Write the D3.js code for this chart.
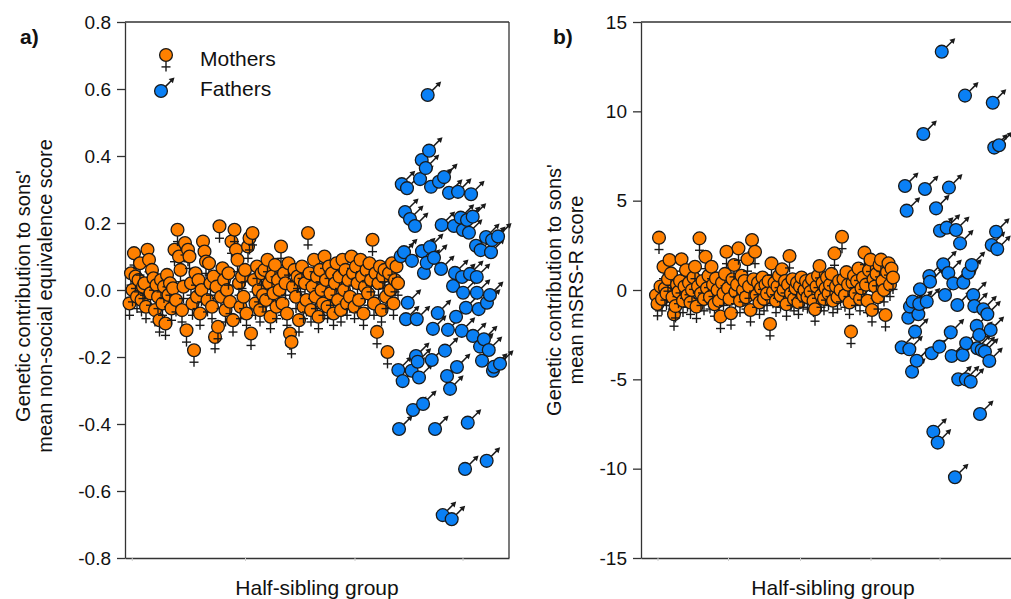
<!DOCTYPE html>
<html>
<head>
<meta charset="utf-8">
<script src="https://cdn.jsdelivr.net/npm/d3@7"></script>
<style>
body { margin: 0; background: #fff; }
svg { display: block; font-family: Arial, "Liberation Sans", sans-serif; }
</style>
</head>
<body>
<svg width="1011" height="599"></svg>
<script>
// panel a: mothers, one value per half-sibling group starting at group 3
var mothersAStart = 3;
var mothersA = [-0.04, 0.05, 0.0, 0.11, 0.04, -0.02, 0.03, 0.08, -0.03, 0.01,
    0.02, -0.05, 0.12, 0.09, -0.01, 0.06, 0.035, -0.06, 0.015, -0.02,
    -0.09, 0.03, -0.04, 0.01, -0.1, 0.045, -0.015, 0.02, -0.055, 0.005,
    0.12, -0.03, 0.18, 0.1, 0.06, -0.06, 0.01, 0.14, -0.12, 0.12,
    0.1, 0.02, -0.04, -0.18, 0.05, -0.02, 0.03, -0.07, 0.0, 0.145,
    0.115, 0.085, -0.03, 0.08, 0.02, -0.05, 0.04, -0.14, 0.01, -0.11,
    0.19, -0.02, 0.065, 0.03, -0.06, 0.0, 0.05, -0.035, 0.145, -0.09,
    0.18, 0.12, 0.09, 0.02, -0.05, 0.04, -0.02, 0.06, -0.07, 0.13,
    0.155, -0.13, 0.17, 0.03, -0.04, 0.07, 0.0, -0.06, 0.05, -0.015,
    0.06, -0.03, 0.09, 0.02, -0.08, 0.04, -0.01, 0.075, -0.05, 0.03,
    0.0, 0.13, -0.04, 0.05, 0.02, -0.07, 0.08, -0.13, -0.155, 0.01,
    0.06, -0.02, 0.04, -0.09, 0.03, 0.07, -0.05, 0.02, -0.03, 0.17,
    0.05, -0.06, 0.01, 0.09, -0.02, 0.04, -0.08, 0.06, 0.0, -0.04,
    0.1, 0.03, -0.05, 0.07, -0.01, 0.05, -0.07, 0.02, 0.08, -0.03,
    0.04, -0.06, 0.09, 0.0, 0.06, -0.04, 0.03, -0.02, 0.1, 0.05,
    -0.05, 0.07, 0.02, -0.03, 0.09, 0.04, -0.07, 0.01, 0.06, -0.01,
    0.08, 0.03, 0.15, -0.04, 0.05, -0.125, 0.02, 0.07, -0.06, 0.04,
    0.06, -0.02, -0.185, 0.05, 0.0, 0.08, -0.04, 0.03, 0.07, 0.02];

// panel a: fathers [group, value]
var fathersA = [[182.2, -0.239], [182.7, -0.415], [183.8, 0.101], [184.5, 0.316], [185.1, -0.272],
    [186, 0.113], [186.7, 0.233], [187.3, -0.087], [188, 0.304], [188.5, -0.038],
    [190, 0.212], [191.1, -0.241], [191.3, 0.087], [192, -0.358], [193.3, 0.191],
    [194, -0.197], [194.5, -0.087], [195.1, -0.214], [196, -0.261], [196.7, 0.331],
    [197.8, 0.388], [198, 0.116], [198.7, -0.34], [199.3, 0.051], [200.5, 0.364],
    [201.1, 0.081], [201.8, 0.582], [202.7, 0.416], [203.3, 0.128], [204, 0.308],
    [204.5, -0.209], [205.3, -0.116], [206, 0.096], [206.7, -0.415], [208.5, -0.069],
    [209.3, 0.323], [210.7, 0.063], [211.1, 0.194], [211.8, -0.672], [212.7, 0.337],
    [213.3, -0.181], [214.7, -0.257], [215.3, -0.119], [216, 0.29], [216.7, -0.295],
    [217.8, -0.684], [218.7, 0.012], [219.3, 0.191], [220, 0.051], [220.7, -0.08],
    [221.3, -0.23], [222, 0.293], [223.8, 0.216], [224.5, -0.122], [224.7, 0.039],
    [225.3, 0.179], [225.4, -0.008], [226.7, -0.534], [227.3, -0.053], [228, 0.209],
    [228.5, -0.396], [229.3, 0.171], [230, 0.048], [230.7, 0.286], [231.8, 0.219],
    [232, -0.137], [234, 0.132], [234.5, 0.039], [234.6, -0.008], [235.8, -0.057],
    [236.7, -0.169], [237.1, 0.119], [238, -0.211], [239.3, -0.147], [240.7, 0.158],
    [241.1, -0.51], [241.3, -0.038], [242.5, -0.179], [243.3, -0.015], [244, 0.113],
    [244.7, 0.149], [245.3, -0.241], [246, -0.229], [248.7, 0.16], [250, -0.22]];

// panel b: mothers, one value per group starting at group 10
var mothersBStart = 10;
var mothersB = [-0.3, -0.78, 2.93, 0.2, -0.5, 1.3, 0.1, -0.2, 0.6, 1.68,
    0.93, -0.4, -1.36, -0.9, 0.3, -0.1, 0.5, 1.72, -0.6, 0.2,
    1.12, -0.3, 0.4, -0.7, 0.0, 0.7, 1.3, -0.93, 0.2, 2.89,
    -0.2, 0.5, -0.5, 1.86, 0.1, 0.8, -0.4, 1.3, 0.3, -0.8,
    0.65, 0.0, -0.6, -1.49, 0.4, -0.2, 0.9, 2.14, 0.1, -0.5,
    -1.3, 0.6, 1.4, -0.1, 0.3, 2.33, -0.6, 0.8, 0.0, 0.5,
    -0.4, 1.72, 0.2, -1.12, 2.8, 0.6, 2.14, -0.3, 0.4, -0.7,
    0.1, 0.7, -0.5, 0.3, -0.2, 0.5, -1.9, 1.49, -0.1, 0.4,
    -0.6, 0.2, 0.8, -0.3, 1.16, 0.0, 0.5, -0.8, 0.3, 1.9,
    -0.2, 0.6, -0.5, 0.1, 0.4, -0.7, 0.2, 0.7, -0.3, 0.0,
    0.5, -0.4, 0.3, -0.1, 0.6, -0.6, -1.08, 0.2, 0.8, 1.34,
    -0.3, 0.4, -0.5, 0.1, 0.7, -0.2, 0.3, 0.9, -0.6, 2.05,
    0.2, -0.4, 0.5, 0.0, 2.98, 0.6, -0.3, 1.0, 0.3, -0.7,
    -2.33, 0.4, 0.8, -0.2, 0.5, 1.2, -0.5, 0.1, 0.7, 2.09,
    0.3, -0.6, 1.1, 1.7, -1.12, 0.6, 0.2, 0.9, -0.4, 1.4,
    1.7, 0.5, 0.0, -1.4, 1.0, 1.5, 0.3, 1.2, 0.7];

// panel b: fathers [group, value]
var fathersB = [[173.8, -3.21], [176, 5.82], [177.1, 4.44], [178.2, -1.55], [178.9, -3.32],
    [179.3, -0.93], [180.7, -4.57], [181.1, -0.65], [182.7, -2.33], [183.8, -3.96],
    [184.9, -1.36], [185.5, -0.78], [186, 0.04], [188.2, 8.73], [189.3, 5.65],
    [190.5, -0.65], [192.2, 0.78], [192.7, 0.46], [193.8, -3.54], [194.9, -7.93],
    [196.7, 4.57], [197.8, -8.54], [198.9, -3.17], [199.3, 3.32], [200.5, 13.34],
    [201.5, 1.44], [202.7, -0.28], [203.8, 3.49], [204.9, 0.95], [205.3, 5.73],
    [206.5, -2.37], [207.1, -3.69], [208.2, 0.37], [209.3, -10.48], [210, 3.36],
    [210.9, -0.84], [211.5, -5.0], [212.7, 2.61], [214.5, -3.64], [214.9, 0.41],
    [216, 10.88], [216.6, -5.0], [216.8, -2.98], [218.2, 0.97], [219.8, -5.13],
    [220.5, 1.4], [221.5, -0.28], [222.2, -0.9], [223.8, -2.01], [224.2, -3.26],
    [225.5, -2.52], [226, -6.94], [227.1, -3.36], [228.2, -1.08], [229.3, -3.45],
    [230.9, -1.36], [232.2, -3.97], [233.1, -2.24], [233.8, 2.52], [234.5, 10.48],
    [235.5, 7.97], [236.7, 3.26], [237.5, 2.29], [238.7, 8.1]];

var ticksA = [-0.8, -0.6, -0.4, -0.2, 0.0, 0.2, 0.4, 0.6, 0.8];
var ticksB = [-15, -10, -5, 0, 5, 10, 15];
var groupTicksA = [4.5, 80, 153, 225];
var groupTicksB = [11, 58, 106, 153, 199];

var orange = "#ff8000";
var blue = "#0a80f5";
var ink = "#1a1a1a";
var r = 6.4;

var svg = d3.select("svg");

function addMothers(sel) {
    sel.append("line")
        .attr("x1", 0).attr("y1", r).attr("x2", 0).attr("y2", r + 10)
        .attr("stroke", ink).attr("stroke-width", 1.4);
    sel.append("line")
        .attr("x1", -4.5).attr("y1", r + 5.5).attr("x2", 4.5).attr("y2", r + 5.5)
        .attr("stroke", ink).attr("stroke-width", 1.4);
    sel.append("circle")
        .attr("r", r)
        .attr("fill", orange)
        .attr("stroke", ink)
        .attr("stroke-width", 1.3);
}

function addFathers(sel) {
    sel.append("line")
        .attr("x1", 4.4).attr("y1", -4.4).attr("x2", 10.5).attr("y2", -10.5)
        .attr("stroke", ink).attr("stroke-width", 1.5);
    sel.append("path")
        .attr("d", "M13.5,-13.5 L11.9,-7.7 L7.7,-11.9 Z")
        .attr("fill", ink);
    sel.append("circle")
        .attr("r", r)
        .attr("fill", blue)
        .attr("stroke", ink)
        .attr("stroke-width", 1.3);
}

function drawPanel(p) {
    var x = d3.scaleLinear().domain([0, 256]).range([p.left, p.left + 384]);
    var y = d3.scaleLinear().domain(p.domain).range([558, 22]);
    var g = svg.append("g");

    // frame
    g.append("line").attr("x1", p.left).attr("x2", p.left + 384).attr("y1", 22).attr("y2", 22)
        .attr("stroke", "#333").attr("stroke-width", 1.3);
    g.append("line").attr("x1", p.left + 384).attr("x2", p.left + 384).attr("y1", 22).attr("y2", 558)
        .attr("stroke", "#333").attr("stroke-width", 1.3);

    var bottom = g.append("g")
        .attr("transform", "translate(0,558)")
        .call(d3.axisBottom(x).tickValues(p.groupTicks).tickSize(3).tickSizeOuter(0).tickFormat(""));
    bottom.select(".domain").attr("stroke", "#333").attr("stroke-width", 1.3);
    bottom.selectAll(".tick line").attr("stroke", "#ccc");

    var left = g.append("g")
        .attr("transform", "translate(" + p.left + ",0)")
        .call(d3.axisLeft(y).tickValues(p.ticks).tickSize(8).tickSizeOuter(0).tickPadding(6).tickFormat(p.fmt));
    left.select(".domain").attr("stroke", "#333").attr("stroke-width", 1.3);
    left.selectAll(".tick line").attr("stroke", "#333").attr("stroke-width", 1.3);
    left.selectAll("text").attr("font-size", 19).attr("fill", "#111")
        .attr("font-family", "Arial, 'Liberation Sans', sans-serif");

    var moms = g.selectAll("g.mom").data(p.mothers).enter().append("g")
        .attr("class", "mom")
        .attr("transform", function (d, i) { return "translate(" + x(i + p.momStart) + "," + y(d) + ")"; });
    addMothers(moms);

    var dads = g.selectAll("g.dad").data(p.fathers).enter().append("g")
        .attr("class", "dad")
        .attr("transform", function (d) { return "translate(" + x(d[0]) + "," + y(d[1]) + ")"; });
    addFathers(dads);

    // titles
    g.append("text")
        .attr("x", p.left + 192).attr("y", 595)
        .attr("text-anchor", "middle").attr("font-size", 21).attr("fill", "#111")
        .text("Half-sibling group");
    p.ytitle.forEach(function (t, i) {
        g.append("text")
            .attr("transform", "translate(" + (p.titleX + i * 22) + "," + p.titleY + ") rotate(-90)")
            .attr("text-anchor", "middle").attr("dominant-baseline", "central")
            .attr("font-size", 20).attr("fill", "#111")
            .text(t);
    });
    g.append("text")
        .attr("x", p.labelX).attr("y", 44)
        .attr("font-size", 21).attr("font-weight", "bold").attr("fill", "#111")
        .text(p.label);
}

drawPanel({
    left: 125, domain: [-0.8, 0.8], ticks: ticksA,
    fmt: function (d) { return d.toFixed(1); },
    groupTicks: groupTicksA,
    mothers: mothersA, momStart: mothersAStart, fathers: fathersA,
    ytitle: ["Genetic contribution to sons'", "mean non-social equivalence score"],
    titleX: 23, titleY: 296, labelX: 20, label: "a)"
});

drawPanel({
    left: 641, domain: [-15, 15], ticks: ticksB,
    fmt: function (d) { return String(d); },
    groupTicks: groupTicksB,
    mothers: mothersB, momStart: mothersBStart, fathers: fathersB,
    ytitle: ["Genetic contribution to sons'", "mean mSRS-R score"],
    titleX: 554, titleY: 290, labelX: 553, label: "b)"
});

// legend
var legend = svg.append("g");
addMothers(legend.append("g").attr("transform", "translate(166,55)"));
addFathers(legend.append("g").attr("transform", "translate(161,91)"));
legend.append("text").attr("x", 200).attr("y", 66).attr("font-size", 21).attr("fill", "#111").text("Mothers");
legend.append("text").attr("x", 200).attr("y", 96).attr("font-size", 21).attr("fill", "#111").text("Fathers");
</script>
</body>
</html>
